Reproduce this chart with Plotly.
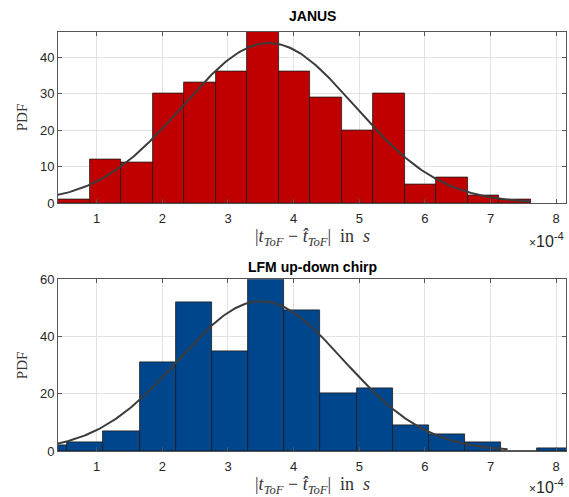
import numpy as np
import plotly.graph_objects as go

# ---------------- data (x in units of 1e-4 s) ----------------
janus_bin_start = 0.41
janus_bin_width = 0.48
janus_counts = [1, 12, 11, 30, 33, 36, 47, 36, 29, 20, 30, 5, 7, 2, 1]
janus_fit_mu = 3.62
janus_fit_sigma = 1.31
janus_fit_range = [0.30, 7.61]

lfm_bin_start = 0.0
lfm_bin_width = 0.551
lfm_counts = [2, 3, 7, 31, 52, 35, 60, 49, 20, 22, 9, 6, 3, 0, 1]
lfm_fit_mu = 3.50
lfm_fit_sigma = 1.26
lfm_fit_range = [0.30, 7.26]

x_range = [0.41, 8.15]
x_tick_vals = [1, 2, 3, 4, 5, 6, 7, 8]
x_tick_text = ["1", "2", "3", "4", "5", "6", "7", "8"]
janus_y_ticks = [0, 10, 20, 30, 40]
lfm_y_ticks = [0, 20, 40, 60]
janus_y_max = 47
lfm_y_max = 60

titles = ["JANUS", "LFM up-down chirp"]
x_label = "|<i>t</i><sub><i>ToF</i></sub> − <i>t̂</i><sub><i>ToF</i></sub>|  in  <i>s</i>"
y_label = "PDF"
exponent_label = "<span style='font-size:12px'>×</span>10<sup>-4</sup>"

# ---------------- figure ----------------
W, H = 569, 497
fig = go.Figure()

def px(x):
    return x / W

def py(y):
    return 1 - y / H

def fit_curve(mu, sigma, n, w, rng):
    xs = np.linspace(rng[0], rng[1], 300)
    ys = n * w * np.exp(-0.5 * ((xs - mu) / sigma) ** 2) / (sigma * np.sqrt(2 * np.pi))
    return xs, ys

def add_hist(start, width, counts, color, mu, sigma, rng, xa, ya):
    centers = [start + width * (i + 0.5) for i in range(len(counts))]
    fig.add_trace(go.Bar(
        x=centers, y=counts, width=[width] * len(counts),
        marker=dict(color=color, line=dict(color="#1a1a1a", width=0.8)),
        xaxis=xa, yaxis=ya, showlegend=False, hoverinfo="skip"))
    xs, ys = fit_curve(mu, sigma, sum(counts), width, rng)
    fig.add_trace(go.Scatter(
        x=xs, y=ys, mode="lines", line=dict(color="#3c3c3c", width=2),
        xaxis=xa, yaxis=ya, showlegend=False, hoverinfo="skip"))

add_hist(janus_bin_start, janus_bin_width, janus_counts, "#C00000",
         janus_fit_mu, janus_fit_sigma, janus_fit_range, "x", "y")
add_hist(lfm_bin_start, lfm_bin_width, lfm_counts, "#00468C",
         lfm_fit_mu, lfm_fit_sigma, lfm_fit_range, "x2", "y2")

xd = [px(58), px(566)]
top_dom = [py(203), py(31.5)]
bot_dom = [py(451), py(279.3)]

tick_font = dict(family="Liberation Sans, Arial, sans-serif", size=13, color="#262626")
axis_common = dict(showline=True, linecolor="#555555", linewidth=1, mirror="ticks",
                   ticks="inside", ticklen=4, tickcolor="#555555",
                   showgrid=True, gridcolor="#e3e3e3", gridwidth=1,
                   zeroline=False, tickfont=tick_font, automargin=False)

fig.update_layout(
    width=W, height=H, margin=dict(l=0, r=0, t=0, b=0, pad=0, autoexpand=False),
    paper_bgcolor="white", plot_bgcolor="white", bargap=0, barmode="overlay",
    showlegend=False,
    xaxis=dict(domain=xd, anchor="y", range=x_range, tickvals=x_tick_vals,
               ticktext=x_tick_text, ticklabelstandoff=3, **axis_common),
    yaxis=dict(domain=top_dom, anchor="x", range=[0, janus_y_max],
               tickvals=janus_y_ticks, **axis_common),
    xaxis2=dict(domain=xd, anchor="y2", range=x_range, tickvals=x_tick_vals,
                ticktext=x_tick_text, ticklabelstandoff=3, **axis_common),
    yaxis2=dict(domain=bot_dom, anchor="x2", range=[0, lfm_y_max],
                tickvals=lfm_y_ticks, **axis_common),
)

serif = dict(family="Liberation Serif, Times New Roman, serif", size=18, color="#333333")
title_font = dict(family="Liberation Sans, Arial, sans-serif", size=14, color="black")
exp_font = dict(family="Liberation Sans, Arial, sans-serif", size=16, color="#262626")
ann = []
for title, ty, xl_y, exp_y, ylab_y in [
        (titles[0], 16, 237, 240, (31.5 + 203) / 2),
        (titles[1], 267, 485, 486, (279.3 + 451) / 2)]:
    ann.append(dict(text="<b>%s</b>" % title, x=px(312), y=py(ty), xref="paper", yref="paper",
                    showarrow=False, font=title_font, xanchor="center", yanchor="middle"))
    ann.append(dict(text=x_label, x=px(312), y=py(xl_y), xref="paper", yref="paper",
                    showarrow=False, font=serif, xanchor="center", yanchor="middle"))
    ann.append(dict(text=exponent_label, x=px(566), y=py(exp_y), xref="paper", yref="paper",
                    showarrow=False, font=exp_font, xanchor="right", yanchor="middle"))
    ann.append(dict(text=y_label, x=px(22), y=py(ylab_y), xref="paper", yref="paper",
                    showarrow=False, font=dict(serif, size=15), textangle=-90,
                    xanchor="center", yanchor="middle"))
fig.update_layout(annotations=ann)

# remove the default 8px page margin so the figure fills the window exactly
fig.write_html("out.html", config={"displayModeBar": False},
               post_script="document.body.style.margin='0';")
